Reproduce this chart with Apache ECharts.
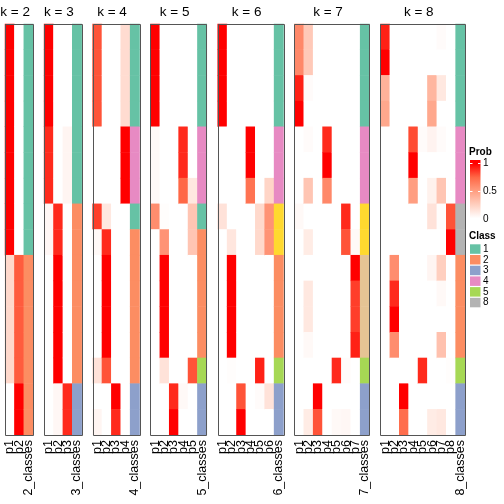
<!DOCTYPE html>
<html><head><meta charset="utf-8">
<script src="https://cdn.jsdelivr.net/npm/echarts@6/dist/echarts.min.js"></script>
<style>html,body{margin:0;padding:0;background:#fff}#c{width:504px;height:504px}</style>
</head><body><div id="c"></div>
<script>
// ---- data: rows are samples (16), columns are p1..pk, values = membership probability
const ks = [2, 3, 4, 5, 6, 7, 8];
const probK2 = [
  [1,1,1,1,1,1,1,1,1,0.2,0.2,0.2,0.2,0.2,0,0],
  [0,0,0,0,0,0,0,0,0,0.78,0.78,0.78,0.78,0.78,1,1]
];
const classK2 = [1,1,1,1,1,1,1,1,1,2,2,2,2,2,2,2];
const probK3 = [
  [1,1,1,1,0.9,0.9,0.9,0.04,0.04,0,0,0,0,0,0,0],
  [0,0,0,0,0,0,0,0.9,0.9,1,1,1,1,1,0.04,0.04],
  [0,0,0,0,0.05,0.05,0.05,0,0,0,0,0,0,0,0.9,0.9]
];
const classK3 = [1,1,1,1,1,1,1,2,2,2,2,2,2,2,3,3];
const probK4 = [
  [0.8,0.8,0.8,0.8,0,0,0,0.85,0.03,0,0,0,0,0.15,0,0.05],
  [0,0,0,0,0,0,0,0.12,0.9,1,1,1,1,0.8,0,0],
  [0,0,0,0,0,0,0,0,0,0,0,0,0,0,1,0.9],
  [0.18,0.18,0.18,0.18,1,1,1,0,0,0,0,0,0,0,0,0]
];
const classK4 = [1,1,1,1,4,4,4,1,2,2,2,2,2,2,3,3];
const probK5 = [
  [1,1,1,1,0.03,0.03,0.03,0.58,0,0,0,0,0,0,0,0],
  [0,0,0,0,0,0,0,0.01,0.55,1,1,1,1,0.15,0,0],
  [0,0,0,0,0,0,0,0,0,0,0,0,0,0,0.9,1],
  [0,0,0,0,0.9,0.9,0.75,0,0,0,0,0,0,0,0.03,0],
  [0,0,0,0,0,0,0.12,0.3,0.3,0,0,0,0,0.8,0,0]
];
const classK5 = [1,1,1,1,4,4,4,1,2,2,2,2,2,5,3,3];
const probK6 = [
  [1,1,1,1,0,0,0,0.15,0,0,0,0,0,0,0,0],
  [0,0,0,0,0,0,0,0,0.13,1,1,1,1,0.01,0,0],
  [0,0,0,0,0,0,0,0,0,0,0,0,0,0,0.8,1],
  [0,0,0,0,1,1,0.7,0,0,0,0,0,0,0,0,0],
  [0,0,0,0,0,0,0,0.2,0.2,0,0,0,0,0.92,0.02,0],
  [0,0,0,0,0,0,0.22,0.55,0.55,0,0,0,0,0,0.15,0]
];
const classK6 = [1,1,1,1,4,4,4,6,6,2,2,2,2,5,3,3];
const probK7 = [
  [0.6,0.6,0.92,1,0,0,0,0.03,0,0,0,0,0,0,0,0],
  [0.28,0.28,0.02,0,0.02,0,0.3,0,0.1,0,0.12,0.12,0.03,0,0,0.1],
  [0,0,0,0,0,0,0,0,0,0,0,0,0,0,1,0.8],
  [0,0,0,0,0.9,1,0.6,0,0,0,0,0,0,0,0,0],
  [0,0,0,0,0,0,0,0,0,0,0,0,0,0.9,0,0.03],
  [0,0,0,0,0,0,0,0.9,0.8,0,0,0,0,0.02,0,0.04],
  [0,0,0,0,0,0,0,0,0.03,1,0.85,0.85,0.92,0,0,0]
];
const classK7 = [1,1,1,1,4,4,4,6,6,7,7,7,7,5,3,3];
const probK8 = [
  [0.92,1,0.4,0.45,0,0,0,0,0,0,0,0,0,0,0,0],
  [0,0,0,0,0,0,0,0,0,0.58,0.9,1,0.58,0,0,0],
  [0,0,0,0,0,0,0,0,0,0,0,0,0,0,1,0.72],
  [0,0,0,0,0.82,1,0.5,0,0,0,0,0,0,0,0,0],
  [0,0,0,0,0.02,0,0,0,0,0,0,0,0,0.9,0,0],
  [0,0,0.38,0.45,0.06,0,0.07,0.15,0,0.05,0,0,0,0,0,0.1],
  [0.02,0,0.12,0,0.02,0,0.3,0.01,0,0.25,0.03,0,0.32,0,0,0.12],
  [0,0,0,0,0,0,0,0.8,1,0,0,0,0,0.01,0,0]
];
const classK8 = [1,1,1,1,4,4,4,8,8,2,2,2,2,5,3,3];
const probs = [probK2, probK3, probK4, probK5, probK6, probK7, probK8];
const classes = [classK2, classK3, classK4, classK5, classK6, classK7, classK8];
const legendClasses = ['1','2','3','4','5','8'];
const probTicks = ['1','0.5','0'];

// ---- styling
const classColors = {1:'#66C2A5',2:'#FC8D62',3:'#8DA0CB',4:'#E78AC3',5:'#A6D854',6:'#FFD92F',7:'#E5C494',8:'#B3B3B3'};
const probColors = ['#FFFFFF','#FFCFBF','#FF9E81','#FF6846','#FF0000'];
const FONT = '"Liberation Sans", Arial, sans-serif';
const W = 9.4, G = 10.87, X0 = 5, TOP = 24, H = 411;
const nRows = 16;
const rowCats = Array.from({length: nRows}, (_, i) => 'r' + i);

const grid = [], xAxis = [], yAxis = [], series = [], graphic = [];
const probSeries = [], classSeries = [];
let colsBefore = 0;
ks.forEach((k, i) => {
  const nCols = k + 1;
  const left = X0 + colsBefore * W + i * G;
  const width = nCols * W;
  colsBefore += nCols;
  grid.push({left: left, top: TOP, width: width, height: H, containLabel: false});
  const cats = [];
  for (let p = 1; p <= k; p++) cats.push('p' + p);
  cats.push(k + '_classes');
  xAxis.push({type: 'category', gridIndex: i, data: cats, position: 'bottom',
    axisLine: {show: false}, axisTick: {show: false}, splitLine: {show: false},
    axisLabel: {rotate: 90, interval: 0, margin: 5, fontSize: 12.5, color: '#000', fontFamily: FONT}});
  yAxis.push({type: 'category', gridIndex: i, data: rowCats, inverse: true, show: false});
  const pdata = [];
  probs[i].forEach((col, c) => col.forEach((v, r) => pdata.push([c, r, v])));
  probSeries.push(series.length);
  series.push({type: 'heatmap', xAxisIndex: i, yAxisIndex: i, data: pdata,
    itemStyle: {borderWidth: 0}, emphasis: {disabled: true}, silent: true});
  const cdata = classes[i].map((v, r) => [k, r, v]);
  classSeries.push(series.length);
  series.push({type: 'heatmap', xAxisIndex: i, yAxisIndex: i, data: cdata,
    itemStyle: {borderWidth: 0}, emphasis: {disabled: true}, silent: true});
  // frame
  graphic.push({type: 'rect', shape: {x: Math.round(left) + 0.5, y: TOP + 0.5, width: Math.round(width), height: H},
    style: {fill: null, stroke: '#555', lineWidth: 1}, z: 100, silent: true});
  // title
  graphic.push({type: 'text', x: left + width / 2 - 4, y: 12,
    style: {text: 'k = ' + k, fontSize: 13.5, fontFamily: FONT, fill: '#000', align: 'center', verticalAlign: 'middle'}, z: 100});
});

// ---- legends (drawn as annotation)
const LX = 470;
graphic.push({type: 'text', x: 469, y: 152.5, style: {text: 'Prob', fontSize: 10, fontWeight: 'bold', fontFamily: FONT, fill: '#000', verticalAlign: 'middle'}});
graphic.push({type: 'rect', shape: {x: LX, y: 160, width: 10.5, height: 62},
  style: {fill: new echarts.graphic.LinearGradient(0, 0, 0, 1, probColors.slice().reverse().map((c, j) => ({offset: 0.06 + j * 0.22, color: c})))}});
const tickY = [163.5, 191.5, 219.5];
probTicks.forEach((t, j) => {
  graphic.push({type: 'line', shape: {x1: LX, y1: tickY[j], x2: LX + 2.5, y2: tickY[j]}, style: {stroke: '#fff', lineWidth: 1}});
  graphic.push({type: 'line', shape: {x1: LX + 8, y1: tickY[j], x2: LX + 10.5, y2: tickY[j]}, style: {stroke: '#fff', lineWidth: 1}});
  graphic.push({type: 'text', x: 483, y: tickY[j], style: {text: t, fontSize: 10, fontFamily: FONT, fill: '#000', verticalAlign: 'middle'}});
});
graphic.push({type: 'text', x: 469, y: 236.5, style: {text: 'Class', fontSize: 10, fontWeight: 'bold', fontFamily: FONT, fill: '#000', verticalAlign: 'middle'}});
legendClasses.forEach((c, j) => {
  const y = 244.3 + j * 10.7;
  graphic.push({type: 'rect', shape: {x: LX, y: y, width: 10.5, height: 9.5}, style: {fill: classColors[c]}});
  graphic.push({type: 'text', x: 483, y: y + 4.8, style: {text: c, fontSize: 10, fontFamily: FONT, fill: '#000', verticalAlign: 'middle'}});
});

const chart = echarts.init(document.getElementById('c'), null, {renderer: 'canvas'});
chart.setOption({
  animation: false,
  backgroundColor: '#fff',
  grid, xAxis, yAxis, series, graphic,
  visualMap: [
    {type: 'continuous', min: 0, max: 1, show: false, seriesIndex: probSeries, inRange: {color: probColors}},
    {type: 'piecewise', show: false, seriesIndex: classSeries,
      pieces: Object.keys(classColors).map(c => ({value: +c, color: classColors[c]}))}
  ]
});
</script></body></html>
